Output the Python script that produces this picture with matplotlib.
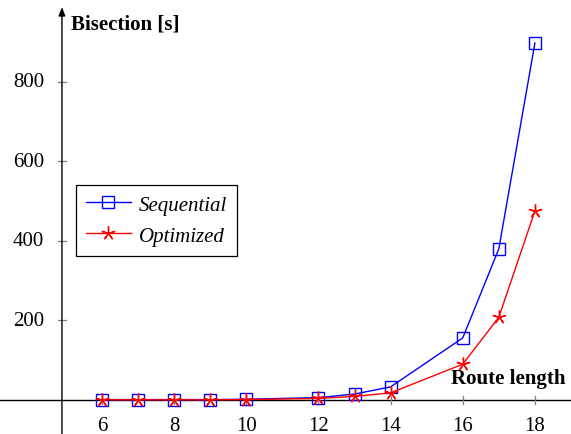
import matplotlib
matplotlib.use("Agg")
import matplotlib.pyplot as plt

route_length = [6, 7, 8, 9, 10, 12, 13, 14, 16, 17, 18]
sequential = [1, 1, 1, 1, 2, 6, 15, 33, 156, 380, 897]
optimized = [0.5, 0.5, 0.5, 0.5, 1, 4, 9, 18, 90, 208, 475]
xticks = [6, 8, 10, 12, 14, 16, 18]
yticks = [200, 400, 600, 800]

plt.rcParams['font.family'] = ['Liberation Serif', 'DejaVu Serif']

fig = plt.figure(figsize=(5.71, 4.35), dpi=100)
ax = fig.add_axes([0, 0, 1, 1])
ax.set_xlim(3.173, 19.0)
ax.set_ylim(-85.4, 1007.5)
x0 = 4.89
for s in ['top', 'right', 'left', 'bottom']:
    ax.spines[s].set_visible(False)
ax.set_xticks([])
ax.set_yticks([])

# axes lines with arrows
ax.annotate('', xy=(x0, 987), xytext=(x0, -85.4),
            arrowprops=dict(arrowstyle='-|>,head_length=0.5,head_width=0.2', color='black', lw=1.0, shrinkA=0, shrinkB=0))
ax.plot([3.173, 19.2], [0, 0], color='black', lw=1.0, clip_on=False)

# ticks
for t in xticks:
    ax.plot([t, t], [-11, 11], color='#808080', lw=0.9)
    ax.text(t, -64, str(t), ha='center', va='center', fontsize=15)
for t in yticks:
    ax.plot([x0 - 0.12, x0 + 0.12], [t, t], color='#808080', lw=0.9)
    ax.text(x0 - 0.5, t, str(t), ha='right', va='center', fontsize=15)

ax.text(5.13, 945, 'Bisection [s]', fontsize=15, fontweight='bold', ha='left', va='center')
ax.text(18.86, 55, 'Route length', fontsize=15, fontweight='bold', ha='right', va='center')

ax.plot(route_length, sequential, color='blue', lw=1.0, marker='s', markersize=9,
        markerfacecolor='none', markeredgecolor='blue', markeredgewidth=1.0, label='Sequential', zorder=3)
ax.plot(route_length, optimized, color='red', lw=1.0, marker=(5, 2, 0), markersize=10,
        markeredgecolor='red', markeredgewidth=1.0, label='Optimized', zorder=4)

leg = ax.legend(loc='upper left', bbox_to_anchor=(76 / 571, 1 - 186 / 435), fancybox=False,
                edgecolor='black', framealpha=1, prop={'style': 'italic', 'size': 15},
                handlelength=2.15, handletextpad=0.4, borderpad=0.48, labelspacing=0.55,
                borderaxespad=0)
leg.get_frame().set_linewidth(0.9)

fig.savefig('out.png', dpi=100)
